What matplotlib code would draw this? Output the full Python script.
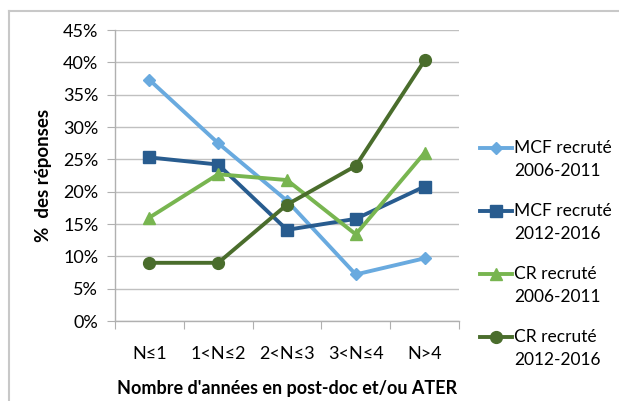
import matplotlib
matplotlib.use("Agg")
import matplotlib.pyplot as plt
from matplotlib.lines import Line2D
from matplotlib.ticker import FuncFormatter, MultipleLocator

plt.rcParams['font.family'] = ['Lato', 'DejaVu Sans']

categories = ["N≤1", "1<N≤2", "2<N≤3", "3<N≤4", "N>4"]
mcf_2006_2011 = [37.3, 27.5, 18.6, 7.2, 9.7]
mcf_2012_2016 = [25.3, 24.2, 14.1, 15.8, 20.8]
cr_2006_2011 = [16.0, 22.7, 21.8, 13.4, 26.0]
cr_2012_2016 = [9.0, 9.0, 18.0, 24.0, 40.3]

series_names = ["MCF recruté", "MCF recruté", "CR recruté", "CR recruté"]
series_periods = ["2006-2011", "2012-2016", "2006-2011", "2012-2016"]
series = [mcf_2006_2011, mcf_2012_2016, cr_2006_2011, cr_2012_2016]
colors = ["#69aadf", "#285c8f", "#78b550", "#4a6d2c"]
markers = ["D", "s", "^", "o"]
msizes = [6, 8.5, 9, 8.5]

W, H = 619, 401
fig = plt.figure(figsize=(W / 100, H / 100), dpi=100)
ax = fig.add_axes([0.1858, 0.1995, 0.5557, 0.7255])

x = list(range(len(categories)))
for vals, c, m, ms in zip(series, colors, markers, msizes):
    ax.plot(x, vals, color=c, lw=2.8, marker=m, markersize=ms,
            markeredgecolor=c, zorder=3)

ax.set_xlim(-0.5, len(categories) - 0.5)
ax.set_ylim(0, 45)
ax.yaxis.set_major_locator(MultipleLocator(5))
ax.yaxis.set_major_formatter(FuncFormatter(lambda v, p: f"{v:.0f}%"))
ax.grid(axis='y', color='#c0c0c0', lw=1.0)
ax.set_axisbelow(True)
for s in ['top', 'right']:
    ax.spines[s].set_visible(False)
for s in ['left', 'bottom']:
    ax.spines[s].set_color('#b0b0b0')
    ax.spines[s].set_linewidth(1.0)

ax.set_xticks([i - 0.5 for i in range(len(categories) + 1)], minor=False)
ax.set_xticklabels([])
ax.set_xticks(x, minor=True)
ax.set_xticklabels(categories, minor=True, fontsize=13)
ax.tick_params(axis='x', which='major', length=6, color='#b0b0b0', direction='out')
ax.tick_params(axis='x', which='minor', length=0, pad=18)
ax.tick_params(axis='y', length=6, color='#b0b0b0', labelsize=13, pad=6)

ax.set_xlabel("Nombre d'années en post-doc et/ou ATER", fontsize=13,
              fontweight='bold', labelpad=13)
ax.set_ylabel("%  des réponses", fontsize=13.5, fontweight='bold', labelpad=8)

# legend: handle beside the first line of each two-line entry
for i, (name, period, c, m, ms) in enumerate(
        zip(series_names, series_periods, colors, markers, msizes)):
    y1 = 1 - (148 + 63 * i) / H
    y2 = 1 - (171 + 63 * i) / H
    fig.add_artist(Line2D([480 / W, 512 / W], [y1, y1], color=c, lw=2.8,
                          transform=fig.transFigure))
    fig.add_artist(Line2D([496 / W], [y1], color=c, marker=m, markersize=ms,
                          markeredgecolor=c, transform=fig.transFigure))
    fig.text(514 / W, y1, name, fontsize=12.5, va='center', ha='left')
    fig.text(514 / W, y2, period, fontsize=12.5, va='center', ha='left')

# light border around the chart area
fig.add_artist(Line2D([0.0145, 1.0], [0.9726, 0.9726], color='#c8c8c8',
                      lw=1.5, transform=fig.transFigure))
fig.add_artist(Line2D([0.0145, 0.0145], [0.0, 0.9726], color='#c8c8c8',
                      lw=1.5, transform=fig.transFigure))

fig.savefig("out.png", dpi=100)
